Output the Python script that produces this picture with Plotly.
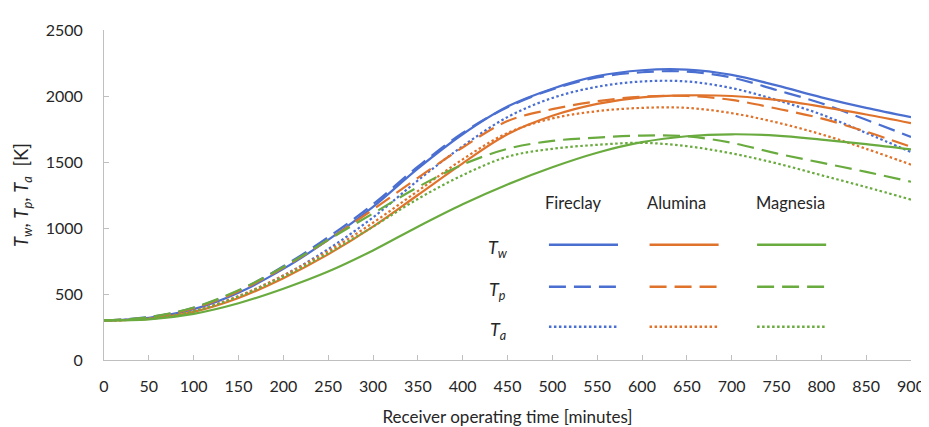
import plotly.graph_objects as go

# ---------------- data ----------------
time_min = [0, 50, 100, 150, 200, 250, 300, 350, 400, 450, 500, 550, 600, 650, 700, 750, 800, 850, 900]

fireclay_Tw = [300, 320, 385, 510, 690, 910, 1160, 1450, 1710, 1920, 2055, 2150, 2195, 2200, 2160, 2080, 1990, 1910, 1840]
fireclay_Tp = [300, 325, 395, 525, 710, 930, 1180, 1465, 1720, 1915, 2050, 2140, 2180, 2185, 2140, 2045, 1945, 1820, 1690]
fireclay_Ta = [300, 315, 370, 480, 640, 840, 1080, 1360, 1620, 1840, 1985, 2070, 2110, 2110, 2060, 1970, 1860, 1720, 1575]

alumina_Tw = [300, 312, 365, 470, 620, 800, 1010, 1250, 1490, 1710, 1850, 1940, 1990, 2005, 2000, 1970, 1920, 1860, 1795]
alumina_Tp = [300, 322, 392, 520, 700, 910, 1140, 1380, 1610, 1810, 1900, 1960, 1995, 2000, 1970, 1905, 1830, 1730, 1615]
alumina_Ta = [300, 314, 372, 485, 640, 825, 1040, 1280, 1520, 1720, 1830, 1885, 1910, 1910, 1870, 1800, 1710, 1600, 1480]

magnesia_Tw = [300, 308, 350, 430, 540, 670, 830, 1010, 1180, 1330, 1460, 1570, 1650, 1695, 1710, 1700, 1670, 1635, 1595]
magnesia_Tp = [300, 325, 398, 528, 705, 910, 1110, 1310, 1480, 1600, 1660, 1685, 1700, 1695, 1645, 1565, 1495, 1425, 1350]
magnesia_Ta = [300, 313, 368, 480, 630, 810, 1010, 1220, 1400, 1540, 1600, 1630, 1645, 1620, 1565, 1490, 1400, 1310, 1215]

materials = ["Fireclay", "Alumina", "Magnesia"]
temp_labels = ["<i>T<sub>w</sub></i>", "<i>T<sub>p</sub></i>", "<i>T<sub>a</sub></i>"]
x_ticks = [0, 50, 100, 150, 200, 250, 300, 350, 400, 450, 500, 550, 600, 650, 700, 750, 800, 850, 900]
y_ticks = [0, 500, 1000, 1500, 2000, 2500]

# ---------------- styling ----------------
colors = {"Fireclay": "#4a6fd1", "Alumina": "#e0732c", "Magnesia": "#6aab3f"}
dashes = ["solid", "17px,8px", "2.5px,2.5px"]
FONT = "Lato, 'Open Sans', sans-serif"
TXT = "#262626"

series = {
    "Fireclay": [fireclay_Tw, fireclay_Tp, fireclay_Ta],
    "Alumina": [alumina_Tw, alumina_Tp, alumina_Ta],
    "Magnesia": [magnesia_Tw, magnesia_Tp, magnesia_Ta],
}

fig = go.Figure()
for mat in materials:
    for i, vals in enumerate(series[mat]):
        fig.add_trace(go.Scatter(
            x=time_min, y=vals, mode="lines",
            line=dict(color=colors[mat], width=2.2, dash=dashes[i], shape="spline", smoothing=1.0),
            showlegend=False, hoverinfo="skip",
        ))

# plot area in pixels: left 96, right 914, top 20, bottom 358
L, R, T, B = 96, 914, 20, 358
def px(x):
    return (x - L) / (R - L)
def py(y):
    return (B - y) / (B - T)

shapes = []
annotations = []
col_centers = [571, 676, 792]
col_spans = [(547, 617), (649, 719), (758, 828)]
row_y = [240, 283, 324]
label_y = [244, 287, 328]

for j, mat in enumerate(materials):
    annotations.append(dict(x=px(col_centers[j]), y=py(197), xref="paper", yref="paper",
                            xanchor="center", yanchor="middle",
                            text=mat, showarrow=False, font=dict(size=16.5, color=TXT, family=FONT)))
    for i in range(3):
        x0, x1 = col_spans[j]
        shapes.append(dict(type="line", xref="paper", yref="paper",
                           x0=px(x0), x1=px(x1), y0=py(row_y[i]), y1=py(row_y[i]),
                           line=dict(color=colors[mat], width=2.5, dash=dashes[i])))
for i in range(3):
    annotations.append(dict(x=px(495), y=py(label_y[i]), xref="paper", yref="paper",
                            xanchor="center", yanchor="middle",
                            text=temp_labels[i], showarrow=False,
                            font=dict(size=18, color=TXT, family=FONT)))

fig.update_layout(
    width=929, height=427,
    margin=dict(l=L, r=929 - R, t=T, b=427 - B),
    paper_bgcolor="white", plot_bgcolor="white",
    font=dict(family=FONT, size=16, color=TXT),
    shapes=shapes, annotations=annotations,
    xaxis=dict(
        range=[0, 900], tickvals=x_ticks, ticktext=[str(v) for v in x_ticks],
        showgrid=False, zeroline=False, showline=True, linecolor="#bfbfbf", linewidth=1,
        ticks="inside", ticklen=5, tickcolor="#bfbfbf", ticklabelstandoff=12,
        tickfont=dict(size=16, color=TXT),
        title=dict(text="Receiver operating time [minutes]", font=dict(size=17, color=TXT), standoff=16),
    ),
    yaxis=dict(
        range=[0, 2500], tickvals=y_ticks, ticktext=[str(v) for v in y_ticks],
        showgrid=False, zeroline=False, showline=True, linecolor="#bfbfbf", linewidth=1,
        ticks="inside", ticklen=5, tickcolor="#bfbfbf", ticklabelstandoff=17,
        tickfont=dict(size=16, color=TXT),
        title=dict(text="<i>T<sub>w</sub></i>, <i>T<sub>p</sub></i>, <i>T<sub>a</sub></i>  [K]",
                   font=dict(size=18.5, color=TXT), standoff=12),
    ),
)

fig.write_html("out.html")
